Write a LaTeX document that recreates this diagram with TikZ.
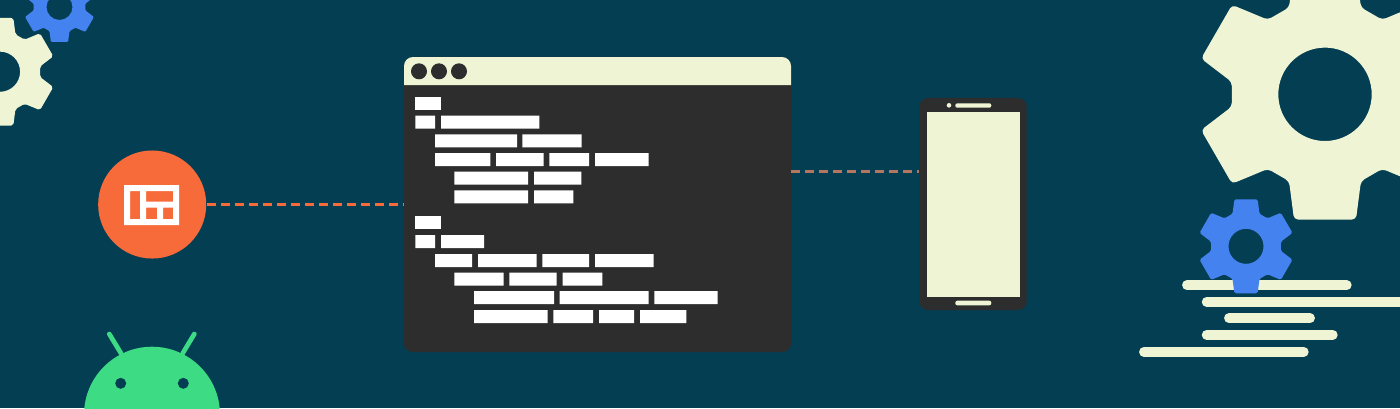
\documentclass[tikz,border=0pt]{standalone}
\usepackage{tikz}
\usepackage{xcolor}

\definecolor{deepteal}{HTML}{033E53}
\definecolor{cream}{HTML}{EEF4D4}
\definecolor{gearblue}{HTML}{4482EF}
\definecolor{droidgreen}{HTML}{3DDC84}
\definecolor{badgeorange}{HTML}{F76B3A}
\definecolor{codegray}{HTML}{2D2D2D}

\tikzset{
  linkline/.style={line width=0.025cm,dash pattern=on 0.09cm off 0.05cm},
  notesline/.style={cream,line width=0.097cm,line cap=round},
  codebar/.style={white},
  antenna/.style={droidgreen,line width=0.047cm,line cap=round}
}

\newcommand{\gearat}[5]{
  \fill[#4,even odd rule,shift={(#1,#2)},scale=#3,rounded corners=#5]
    (67.5:94) -- (76.1:129) -- (103.9:129) -- (112.5:94) --
    (127.5:94) -- (136.1:129) -- (163.9:129) -- (172.5:94) --
    (187.5:94) -- (196.1:129) -- (223.9:129) -- (232.5:94) --
    (247.5:94) -- (256.1:129) -- (283.9:129) -- (292.5:94) --
    (307.5:94) -- (316.1:129) -- (343.9:129) -- (352.5:94) --
    (7.5:94) -- (16.1:129) -- (43.9:129) -- (52.5:94) -- cycle
    (0,0) circle (46.7);
}

\begin{document}
\begin{tikzpicture}[x=0.01cm,y=-0.01cm]
  \useasboundingbox (0,0) rectangle (1400,408);
  \clip (0,0) rectangle (1400,408);
  \fill[deepteal] (0,0) rectangle (1400,408);

  \gearat{59.5}{7}{0.278}{gearblue}{0.01cm}
  \gearat{0}{71.7}{0.43}{cream}{0.02cm}

  \node[circle,fill=badgeorange,minimum size=1.08cm,inner sep=0pt] (badge) at (152.2,204.5) {};
  \fill[white,even odd rule] (124,185) rectangle (179,225)
    (130,191) rectangle (140,219) (146,191) rectangle (173,201.7)
    (146,207.7) rectangle (157,219) (163,207.7) rectangle (173,219);

  \fill[droidgreen] (152,414.7) circle (68);
  \draw[antenna] (109.3,334) -- (121,353.3);
  \draw[antenna] (194.3,334) -- (182.7,353.3);
  \fill[deepteal] (120.7,383.3) circle (5.5);
  \fill[deepteal] (183.3,383.3) circle (5.5);

  \node[fill=codegray,rounded corners=0.09cm,minimum width=3.87cm,minimum height=2.95cm,inner sep=0pt] (window) at (597.5,204.5) {};
  \fill[cream,rounded corners=0.09cm] (404,85) -- (404,57) -- (791,57) -- (791,85);
  \fill[codegray] (419,71.3) circle (8);
  \fill[codegray] (439,71.3) circle (8);
  \fill[codegray] (459,71.3) circle (8);

  \fill[codebar] (415.3,97) rectangle (440.7,110);
  \fill[codebar] (415.3,115.7) rectangle (435,128.7) (441,115.7) rectangle (539.3,128.7);
  \fill[codebar] (435,134.3) rectangle (517,147.3) (522.3,134.3) rectangle (581.7,147.3);
  \fill[codebar] (435,153) rectangle (490.3,166) (496,153) rectangle (543.7,166) (549.3,153) rectangle (589,166) (595,153) rectangle (648.7,166);
  \fill[codebar] (454.3,171.7) rectangle (528,184.7) (534,171.7) rectangle (581.3,184.7);
  \fill[codebar] (454.3,190.3) rectangle (528,203.3) (534,190.3) rectangle (573.3,203.3);
  \fill[codebar] (415.3,216.3) rectangle (440.7,229.3);
  \fill[codebar] (415.3,235) rectangle (435,248) (441,235) rectangle (484,248);
  \fill[codebar] (435,254) rectangle (472,267) (478,254) rectangle (536.7,267) (542.3,254) rectangle (589,267) (595,254) rectangle (653.7,267);
  \fill[codebar] (454.3,272.7) rectangle (503.7,285.7) (509.3,272.7) rectangle (556.7,285.7) (562.7,272.7) rectangle (602.3,285.7);
  \fill[codebar] (474,291) rectangle (554,304) (559.7,291) rectangle (648.7,304) (654.3,291) rectangle (717.7,304);
  \fill[codebar] (474,310) rectangle (547.7,323) (553.3,310) rectangle (593,323) (599,310) rectangle (634,323) (640,310) rectangle (686.3,323);

  \node[fill=codegray,rounded corners=0.09cm,minimum width=1.074cm,minimum height=2.12cm,inner sep=0pt] (phone) at (973,204) {};
  \fill[cream] (926.7,112) rectangle (1020,297);
  \fill[cream] (949,105.3) circle (2.3);
  \fill[cream,rounded corners=0.02cm] (955.3,103.3) rectangle (991.3,107.7);
  \fill[cream,rounded corners=0.02cm] (955.3,300.7) rectangle (991.3,305.3);

  \draw[linkline,badgeorange] (badge.east) -- (window.west);
  \coordinate (tapline) at (791,171.7);
  \draw[linkline,badgeorange!45!gray] (tapline) -- (phone.west |- tapline);

  \gearat{1325}{94.3}{1}{cream}{0.04cm}

  \draw[notesline] (1186.9,285.2) -- (1346.8,285.2);
  \draw[notesline] (1206.6,301.9) -- (1420,301.9);
  \draw[notesline] (1228.9,318.2) -- (1310.1,318.2);
  \draw[notesline] (1206.6,334.9) -- (1332.8,334.9);
  \draw[notesline] (1143.9,351.9) -- (1303.8,351.9);

  \gearat{1246}{246.3}{0.375}{gearblue}{0.015cm}
\end{tikzpicture}
\end{document}
